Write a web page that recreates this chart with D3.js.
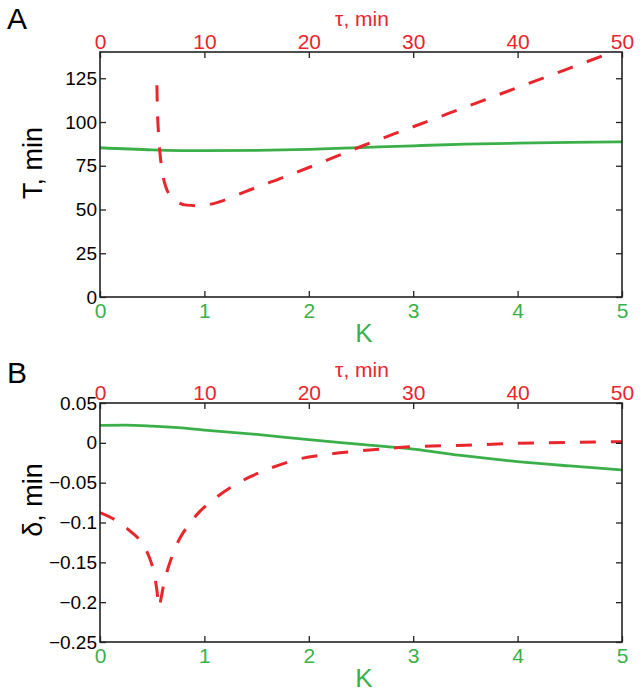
<!DOCTYPE html>
<html>
<head>
<meta charset="utf-8">
<script src="https://cdnjs.cloudflare.com/ajax/libs/d3/7.8.5/d3.min.js"></script>
<style>
  body { margin: 0; background: #fff; }
  svg text { font-family: "Liberation Sans", Arial, sans-serif; }
</style>
</head>
<body>
<svg id="chart" width="643" height="692"></svg>
<script>
// --- data ---
let kTicks = [0, 1, 2, 3, 4, 5];
let tauTicks = [0, 10, 20, 30, 40, 50];
let periodTicks = [0, 25, 50, 75, 100, 125];
let deltaTicks = [-0.25, -0.2, -0.15, -0.1, -0.05, 0, 0.05];

// panel A: period T vs K (green) and vs tau (red dashed)
let periodK   = [0, 0.5, 1, 1.5, 2, 2.5, 3, 3.5, 4, 4.5, 5];
let periodKT  = [85.3, 84.1, 83.6, 83.8, 84.4, 85.4, 86.4, 87.3, 87.9, 88.4, 88.7];
let periodTau = [5.45, 5.5, 5.6, 5.75, 5.95, 6.3, 6.8, 7.5, 8.3, 9.2, 10.2, 11.5, 13, 15, 17.5, 20, 25, 30, 35, 40, 45, 50];
let periodTauT = [121, 107, 94, 82, 72, 63, 57.5, 54, 52.5, 52.2, 52.6, 54.5, 58, 62.7, 68.2, 74, 86, 97.3, 108.5, 119.7, 130.8, 142];

// panel B: delta vs K (green) and vs tau (red dashed)
let deltaK  = [0, 0.25, 0.5, 0.75, 1, 1.5, 2, 2.5, 3, 3.5, 4, 4.5, 5];
let deltaKD = [0.022, 0.0222, 0.021, 0.019, 0.016, 0.0105, 0.004, -0.002, -0.008, -0.0165, -0.0235, -0.029, -0.034];
let deltaTau  = [0, 1.5, 3, 3.8, 4.5, 4.9, 5.2, 5.45, 5.65, 5.85, 6.1, 6.5, 6.9, 7.6, 8.5, 9.5, 10.8, 12.5, 14.4, 16.5, 19, 22, 25.8, 29.7, 35, 39, 45, 50];
let deltaTauD = [-0.0875, -0.097, -0.112, -0.122, -0.137, -0.15, -0.165, -0.185, -0.206, -0.195, -0.178, -0.158, -0.1425, -0.121, -0.103, -0.087, -0.072, -0.056, -0.0425, -0.031, -0.0205, -0.014, -0.009, -0.005, -0.003, -0.001, 0.0005, 0.0015];

const RED = "#e8262b", GREEN = "#3bb04a", INK = "#222";
let svg = d3.select("#chart");

function drawPanel(cfg) {
    let x0 = 100, x1 = 622;
    let g = svg.append("g");
    let kScale = d3.scaleLinear().domain([0, 5]).range([x0, x1]);
    let tauScale = d3.scaleLinear().domain([0, 50]).range([x0, x1]);
    let yScale = d3.scaleLinear().domain(cfg.yDomain).range([cfg.bottom, cfg.top]);

    let clipId = "clip-" + cfg.letter;
    svg.append("clipPath").attr("id", clipId).append("rect")
        .attr("x", x0).attr("y", cfg.top).attr("width", x1 - x0).attr("height", cfg.bottom - cfg.top);

    let line = (xs, ys, sx) => d3.line().curve(d3.curveMonotoneX)
        .x((d, i) => sx(xs[i])).y(d => yScale(d))(ys);

    // curves
    g.append("path").attr("d", line(cfg.kX, cfg.kY, kScale))
        .attr("fill", "none").attr("stroke", GREEN).attr("stroke-width", 2.8)
        .attr("clip-path", "url(#" + clipId + ")");
    g.append("path").attr("d", line(cfg.tX, cfg.tY, tauScale))
        .attr("fill", "none").attr("stroke", RED).attr("stroke-width", 3)
        .attr("stroke-dasharray", "16,15")
        .attr("clip-path", "url(#" + clipId + ")");

    // axes, ticks pointing inward (matlab box)
    let styleAxis = (sel, color, size) => {
        sel.select(".domain").remove();
        sel.selectAll(".tick line").attr("stroke", INK).attr("stroke-width", 1.3);
        sel.selectAll(".tick text").attr("fill", color).style("font-size", size + "px");
    };
    g.append("g").attr("transform", `translate(0,${cfg.bottom})`)
        .call(d3.axisBottom(kScale).tickValues(kTicks).tickSizeInner(-6).tickPadding(6)
            .tickFormat(d3.format("d")))
        .call(s => styleAxis(s, GREEN, 21));
    g.append("g").attr("transform", `translate(0,${cfg.top})`)
        .call(d3.axisTop(tauScale).tickValues(tauTicks).tickSizeInner(-6).tickPadding(3)
            .tickFormat(d3.format("d")))
        .call(s => styleAxis(s, RED, 21));
    g.append("g").attr("transform", `translate(${x0},0)`)
        .call(d3.axisLeft(yScale).tickValues(cfg.yTicks).tickSizeInner(-6).tickPadding(3)
            .tickFormat(cfg.fmt))
        .call(s => styleAxis(s, "#000", 19));
    g.append("g").attr("transform", `translate(${x1},0)`)
        .call(d3.axisRight(yScale).tickValues(cfg.yTicks).tickSizeInner(-6).tickFormat(""))
        .call(s => styleAxis(s, "#000", 19));

    g.append("rect").attr("x", x0).attr("y", cfg.top)
        .attr("width", x1 - x0).attr("height", cfg.bottom - cfg.top)
        .attr("fill", "none").attr("stroke", INK).attr("stroke-width", 1.6);

    // labels
    g.append("text").attr("x", 7).attr("y", cfg.top - cfg.letterGap).text(cfg.letter)
        .style("font-size", "30px").attr("fill", "#000");
    g.append("text").attr("x", 362).attr("y", cfg.top - 26).attr("text-anchor", "middle")
        .text("τ, min").style("font-size", "21px").attr("fill", RED);
    g.append("text").attr("x", 364).attr("y", cfg.bottom + 45).attr("text-anchor", "middle")
        .text("K").style("font-size", "26px").attr("fill", GREEN);
    g.append("text").attr("transform", `translate(42,${cfg.labelY}) rotate(-90)`)
        .attr("text-anchor", "middle").text(cfg.yLabel)
        .style("font-size", "27px").attr("fill", "#000");
}

drawPanel({
    letter: "A", letterGap: 23, top: 52, bottom: 297, yDomain: [0, 140], yTicks: periodTicks,
    fmt: d3.format("d"), yLabel: "T, min", labelY: 163,
    kX: periodK, kY: periodKT, tX: periodTau, tY: periodTauT
});
drawPanel({
    letter: "B", letterGap: 20, top: 403, bottom: 642, yDomain: [-0.25, 0.05], yTicks: deltaTicks,
    fmt: d => d === 0 ? "0" : d3.format("")(d).replace("-", "\u2212"), yLabel: "δ, min", labelY: 500,
    kX: deltaK, kY: deltaKD, tX: deltaTau, tY: deltaTauD
});
</script>
</body>
</html>
